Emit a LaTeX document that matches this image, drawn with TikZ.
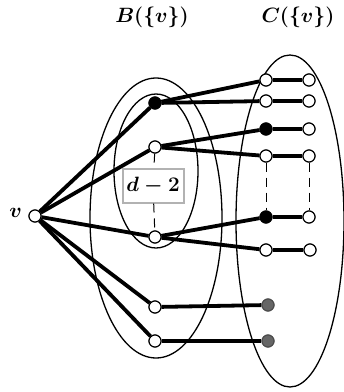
\documentclass[tikz,border=0pt]{standalone}
\usepackage{amsmath,bm,graphicx}
\newcommand{\biglab}[1]{\scalebox{1.2}{\fontsize{16}{19}\selectfont\boldmath$#1$}}
\begin{document}
\begin{tikzpicture}[x=1pt,y=-1pt,
  wv/.style={circle,draw=black,fill=white,line width=1.1pt,minimum size=12pt,inner sep=0pt},
  bv/.style={circle,draw=black,fill=black,line width=1.1pt,minimum size=12pt,inner sep=0pt},
  gv/.style={circle,draw=black!70,fill=black!60,line width=1.1pt,minimum size=12pt,inner sep=0pt},
  edge/.style={line width=3.8pt},
  ell/.style={line width=1.3pt},
  dsh/.style={line width=1pt,dash pattern=on 9pt off 6pt},
  lab/.style={inner sep=1pt}]
\useasboundingbox (0,0) rectangle (344,392);
% ellipses
\draw[ell] (156,218) ellipse [x radius=66, y radius=140];
\draw[ell] (156,171) ellipse [x radius=42, y radius=77];
\draw[ell] (290,221) ellipse [x radius=54, y radius=166];
% labels
\node[lab] (lb) at (152,17) {\biglab{B(\{v\})}};
\node[lab] (lc) at (298,17) {\biglab{C(\{v\})}};
% nodes
\node[wv] (v) at (35,216) {};
\node[lab,anchor=east] (vl) at (23,213) {\biglab{v}};
\node[bv] (b1) at (155,103) {};
\node[wv] (b2) at (155,147) {};
\node[wv] (b3) at (155,237) {};
\node[wv] (b4) at (155,307) {};
\node[wv] (b5) at (155,341) {};
\node[wv] (c1) at (266,80) {};
\node[wv] (c2) at (266,101) {};
\node[bv] (c3) at (266,129) {};
\node[wv] (c4) at (266,156) {};
\node[bv] (c5) at (266,217) {};
\node[wv] (c6) at (266,250) {};
\node[gv] (c7) at (268,305) {};
\node[gv] (c8) at (268,341) {};
\node[wv] (d1) at (309,80) {};
\node[wv] (d2) at (309,101) {};
\node[wv] (d3) at (309,129) {};
\node[wv] (d4) at (309,156) {};
\node[wv] (d5) at (309,217) {};
\node[wv] (d6) at (310,250) {};
% box
\node[draw=black!30,line width=2pt,fill=white,minimum width=61pt,minimum height=34pt,inner sep=2pt] (box) at (153,185.5) {\biglab{d-2}};
% dashed
\draw[dsh] (b2) -- (box);
\draw[dsh] (box) -- (b3);
\draw[dsh] (c4) -- (c5);
\draw[dsh] (d4) -- (d5);
% edges
\foreach \b in {b1,b2,b3,b4,b5} \draw[edge] (v) -- (\b);
\draw[edge] (b1) -- (c1); \draw[edge] (b1) -- (c2);
\draw[edge] (b2) -- (c3); \draw[edge] (b2) -- (c4);
\draw[edge] (b3) -- (c5); \draw[edge] (b3) -- (c6);
\draw[edge] (b4) -- (c7); \draw[edge] (b5) -- (c8);
\draw[edge] (c1) -- (d1); \draw[edge] (c2) -- (d2); \draw[edge] (c3) -- (d3);
\draw[edge] (c4) -- (d4); \draw[edge] (c5) -- (d5); \draw[edge] (c6) -- (d6);
% redraw nodes on top
\foreach \n/\s in {v/wv,b1/bv,b2/wv,b3/wv,b4/wv,b5/wv,c1/wv,c2/wv,c3/bv,c4/wv,c5/bv,c6/wv,c7/gv,c8/gv,d1/wv,d2/wv,d3/wv,d4/wv,d5/wv,d6/wv}
  \node[\s] at (\n) {};
\end{tikzpicture}
\end{document}
